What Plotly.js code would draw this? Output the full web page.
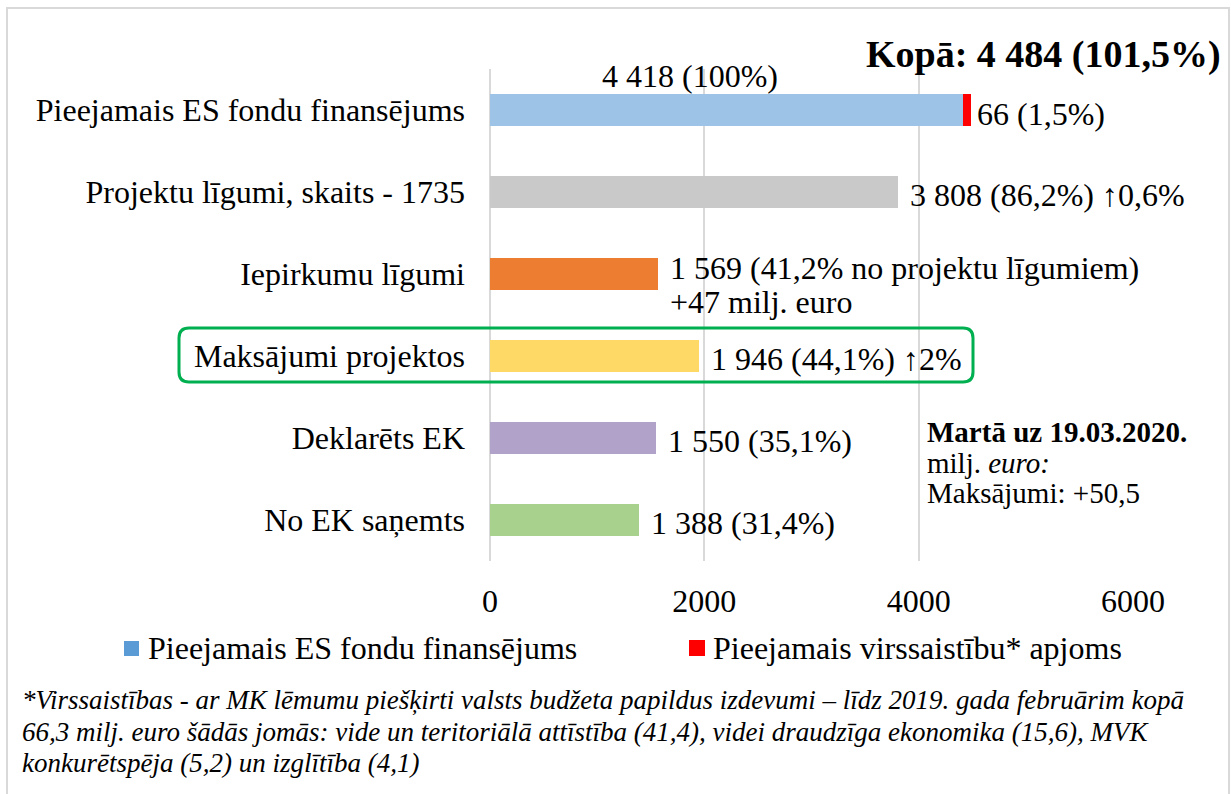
<!DOCTYPE html>
<html>
<head>
<meta charset="utf-8">
<script src="https://cdn.plot.ly/plotly-3.0.1.min.js"></script>
<style>html,body{margin:0;padding:0;background:#fff;}#chart{width:1231px;height:794px;}</style>
</head>
<body>
<div id="chart"></div>
<script>
// ---- data ----
const categories = ["Pieejamais ES fondu finansējums", "Projektu līgumi, skaits - 1735", "Iepirkumu līgumi", "Maksājumi projektos", "Deklarēts EK", "No EK saņemts"];
const values = [4418, 3808, 1569, 1946, 1550, 1388];
const overcommitment = [66, null, null, null, null, null];
const barColors = ["#9DC3E6", "#C9C9C9", "#ED7D31", "#FFD966", "#B1A2CA", "#A9D18E"];
const valueLabels = ["4 418 (100%)", "3 808 (86,2%) ↑0,6%", "1 569 (41,2% no projektu līgumiem)", "1 946 (44,1%) ↑2%", "1 550 (35,1%)", "1 388 (31,4%)"];
const overcommitLabel = "66 (1,5%)";
const extraLine = "+47 milj. euro";
const totalLabel = "Kopā: 4 484 (101,5%)";
const legendNames = ["Pieejamais ES fondu finansējums", "Pieejamais virssaistību* apjoms"];
const xTicks = [0, 2000, 4000, 6000];
const noteLines = ["<b>Martā uz 19.03.2020.</b>", "milj. <i>euro:</i>", "Maksājumi: +50,5"];
const footnoteLines = [
  "*Virssaistības - ar MK lēmumu piešķirti valsts budžeta papildus izdevumi – līdz 2019. gada februārim kopā",
  "66,3 milj. euro šādās jomās: vide un teritoriālā attīstība (41,4), videi draudzīga ekonomika (15,6), MVK",
  "konkurētspēja (5,2) un izglītība (4,1)"
];

// ---- geometry helpers (pixel -> paper) ----
const W = 1231, H = 794;
const M = {l: 490, r: 98, t: 69, b: 233};
const PW = W - M.l - M.r, PH = H - M.t - M.b;
const px = x => (x - M.l) / PW;
const py = y => (H - M.b - y) / PH;

const FONT = "Liberation Serif, Times New Roman, serif";

const traces = [
  {type: "bar", orientation: "h", y: categories, x: values, name: legendNames[0],
   marker: {color: barColors}, showlegend: false, hoverinfo: "x+y"},
  {type: "bar", orientation: "h", y: categories, x: overcommitment, name: legendNames[1],
   marker: {color: "#FF0000"}, showlegend: false, hoverinfo: "x+y"}
];

const annotations = [];
// value labels
valueLabels.forEach((t, i) => {
  if (i === 0) {
    annotations.push({x: values[i], y: categories[i], xref: "x", yref: "y", text: t, showarrow: false,
      xanchor: "right", xshift: -183, yshift: 34, font: {family: FONT, size: 32, color: "#000"}});
  } else {
    annotations.push({x: values[i], y: categories[i], xref: "x", yref: "y", text: t, showarrow: false,
      xanchor: "left", xshift: 10, yshift: (i === 2 ? 6 : -3), font: {family: FONT, size: 32, color: "#000"}});
  }
});
annotations.push({x: values[2], y: categories[2], xref: "x", yref: "y", text: extraLine, showarrow: false,
  xanchor: "left", xshift: 10, yshift: -28, font: {family: FONT, size: 32, color: "#000"}});
annotations.push({x: values[0] + overcommitment[0], y: categories[0], xref: "x", yref: "y", text: overcommitLabel,
  showarrow: false, xanchor: "left", xshift: 4, yshift: -4, font: {family: FONT, size: 32, color: "#000"}});
// total
annotations.push({x: px(1223), y: py(55), xref: "paper", yref: "paper", text: "<b>" + totalLabel + "</b>",
  showarrow: false, xanchor: "right", yanchor: "middle", font: {family: FONT, size: 38, color: "#000"}});
// note
const noteY = [432, 463, 493];
noteLines.forEach((t, i) => {
  annotations.push({x: px(925), y: py(noteY[i]), xref: "paper", yref: "paper", text: t, showarrow: false,
    xanchor: "left", yanchor: "middle", font: {family: FONT, size: 29, color: "#000"}});
});
// footnote
const footY = [700, 732, 763];
footnoteLines.forEach((t, i) => {
  annotations.push({x: px(20), y: py(footY[i]), xref: "paper", yref: "paper", text: "<i>" + t + "</i>", showarrow: false,
    xanchor: "left", yanchor: "middle", font: {family: FONT, size: 27, color: "#000"}});
});
// legend texts
annotations.push({x: px(146), y: py(648), xref: "paper", yref: "paper", text: legendNames[0], showarrow: false,
  xanchor: "left", yanchor: "middle", font: {family: FONT, size: 32, color: "#000"}});
annotations.push({x: px(711), y: py(648), xref: "paper", yref: "paper", text: legendNames[1], showarrow: false,
  xanchor: "left", yanchor: "middle", font: {family: FONT, size: 32, color: "#000"}});

// rounded green box path
function roundRect(x0, y0, x1, y1, r) {
  const P = (x, y) => px(x) + "," + py(y);
  return "M" + P(x0 + r, y0) + " L" + P(x1 - r, y0) + " Q" + P(x1, y0) + " " + P(x1, y0 + r) +
    " L" + P(x1, y1 - r) + " Q" + P(x1, y1) + " " + P(x1 - r, y1) +
    " L" + P(x0 + r, y1) + " Q" + P(x0, y1) + " " + P(x0, y1 - r) +
    " L" + P(x0, y0 + r) + " Q" + P(x0, y0) + " " + P(x0 + r, y0) + " Z";
}

const shapes = [
  {type: "rect", xref: "paper", yref: "paper", x0: px(7), x1: px(1229), y0: py(8), y1: py(820),
   line: {color: "#D9D9D9", width: 2}, fillcolor: "rgba(0,0,0,0)", layer: "below"},
  {type: "path", xref: "paper", yref: "paper", path: roundRect(179, 328, 973, 382, 10),
   line: {color: "#00B050", width: 3}, fillcolor: "rgba(0,0,0,0)"},
  {type: "rect", xref: "paper", yref: "paper", x0: px(124), x1: px(139), y0: py(656), y1: py(641),
   line: {width: 0}, fillcolor: "#5B9BD5"},
  {type: "rect", xref: "paper", yref: "paper", x0: px(689), x1: px(705), y0: py(656), y1: py(640),
   line: {width: 0}, fillcolor: "#FF0000"}
];

const layout = {
  width: W, height: H,
  margin: M,
  paper_bgcolor: "#fff", plot_bgcolor: "#fff",
  barmode: "stack",
  bargap: 0.6,
  showlegend: false,
  font: {family: FONT, size: 32, color: "#000"},
  xaxis: {range: [0, 6000], tickvals: xTicks, showgrid: true, gridcolor: "#D9D9D9", gridwidth: 2,
    zeroline: true, zerolinecolor: "#D9D9D9", zerolinewidth: 2, showline: false, ticks: "",
    tickfont: {family: FONT, size: 32, color: "#000"}, ticklabelstandoff: 18, fixedrange: true},
  yaxis: {type: "category", autorange: "reversed", showgrid: false, zeroline: false, showline: false, ticks: "",
    tickfont: {family: FONT, size: 32, color: "#000"}, ticklabelstandoff: 24, fixedrange: true},
  annotations: annotations,
  shapes: shapes
};

Plotly.newPlot("chart", traces, layout, {displayModeBar: false, staticPlot: true});
</script>
</body>
</html>
